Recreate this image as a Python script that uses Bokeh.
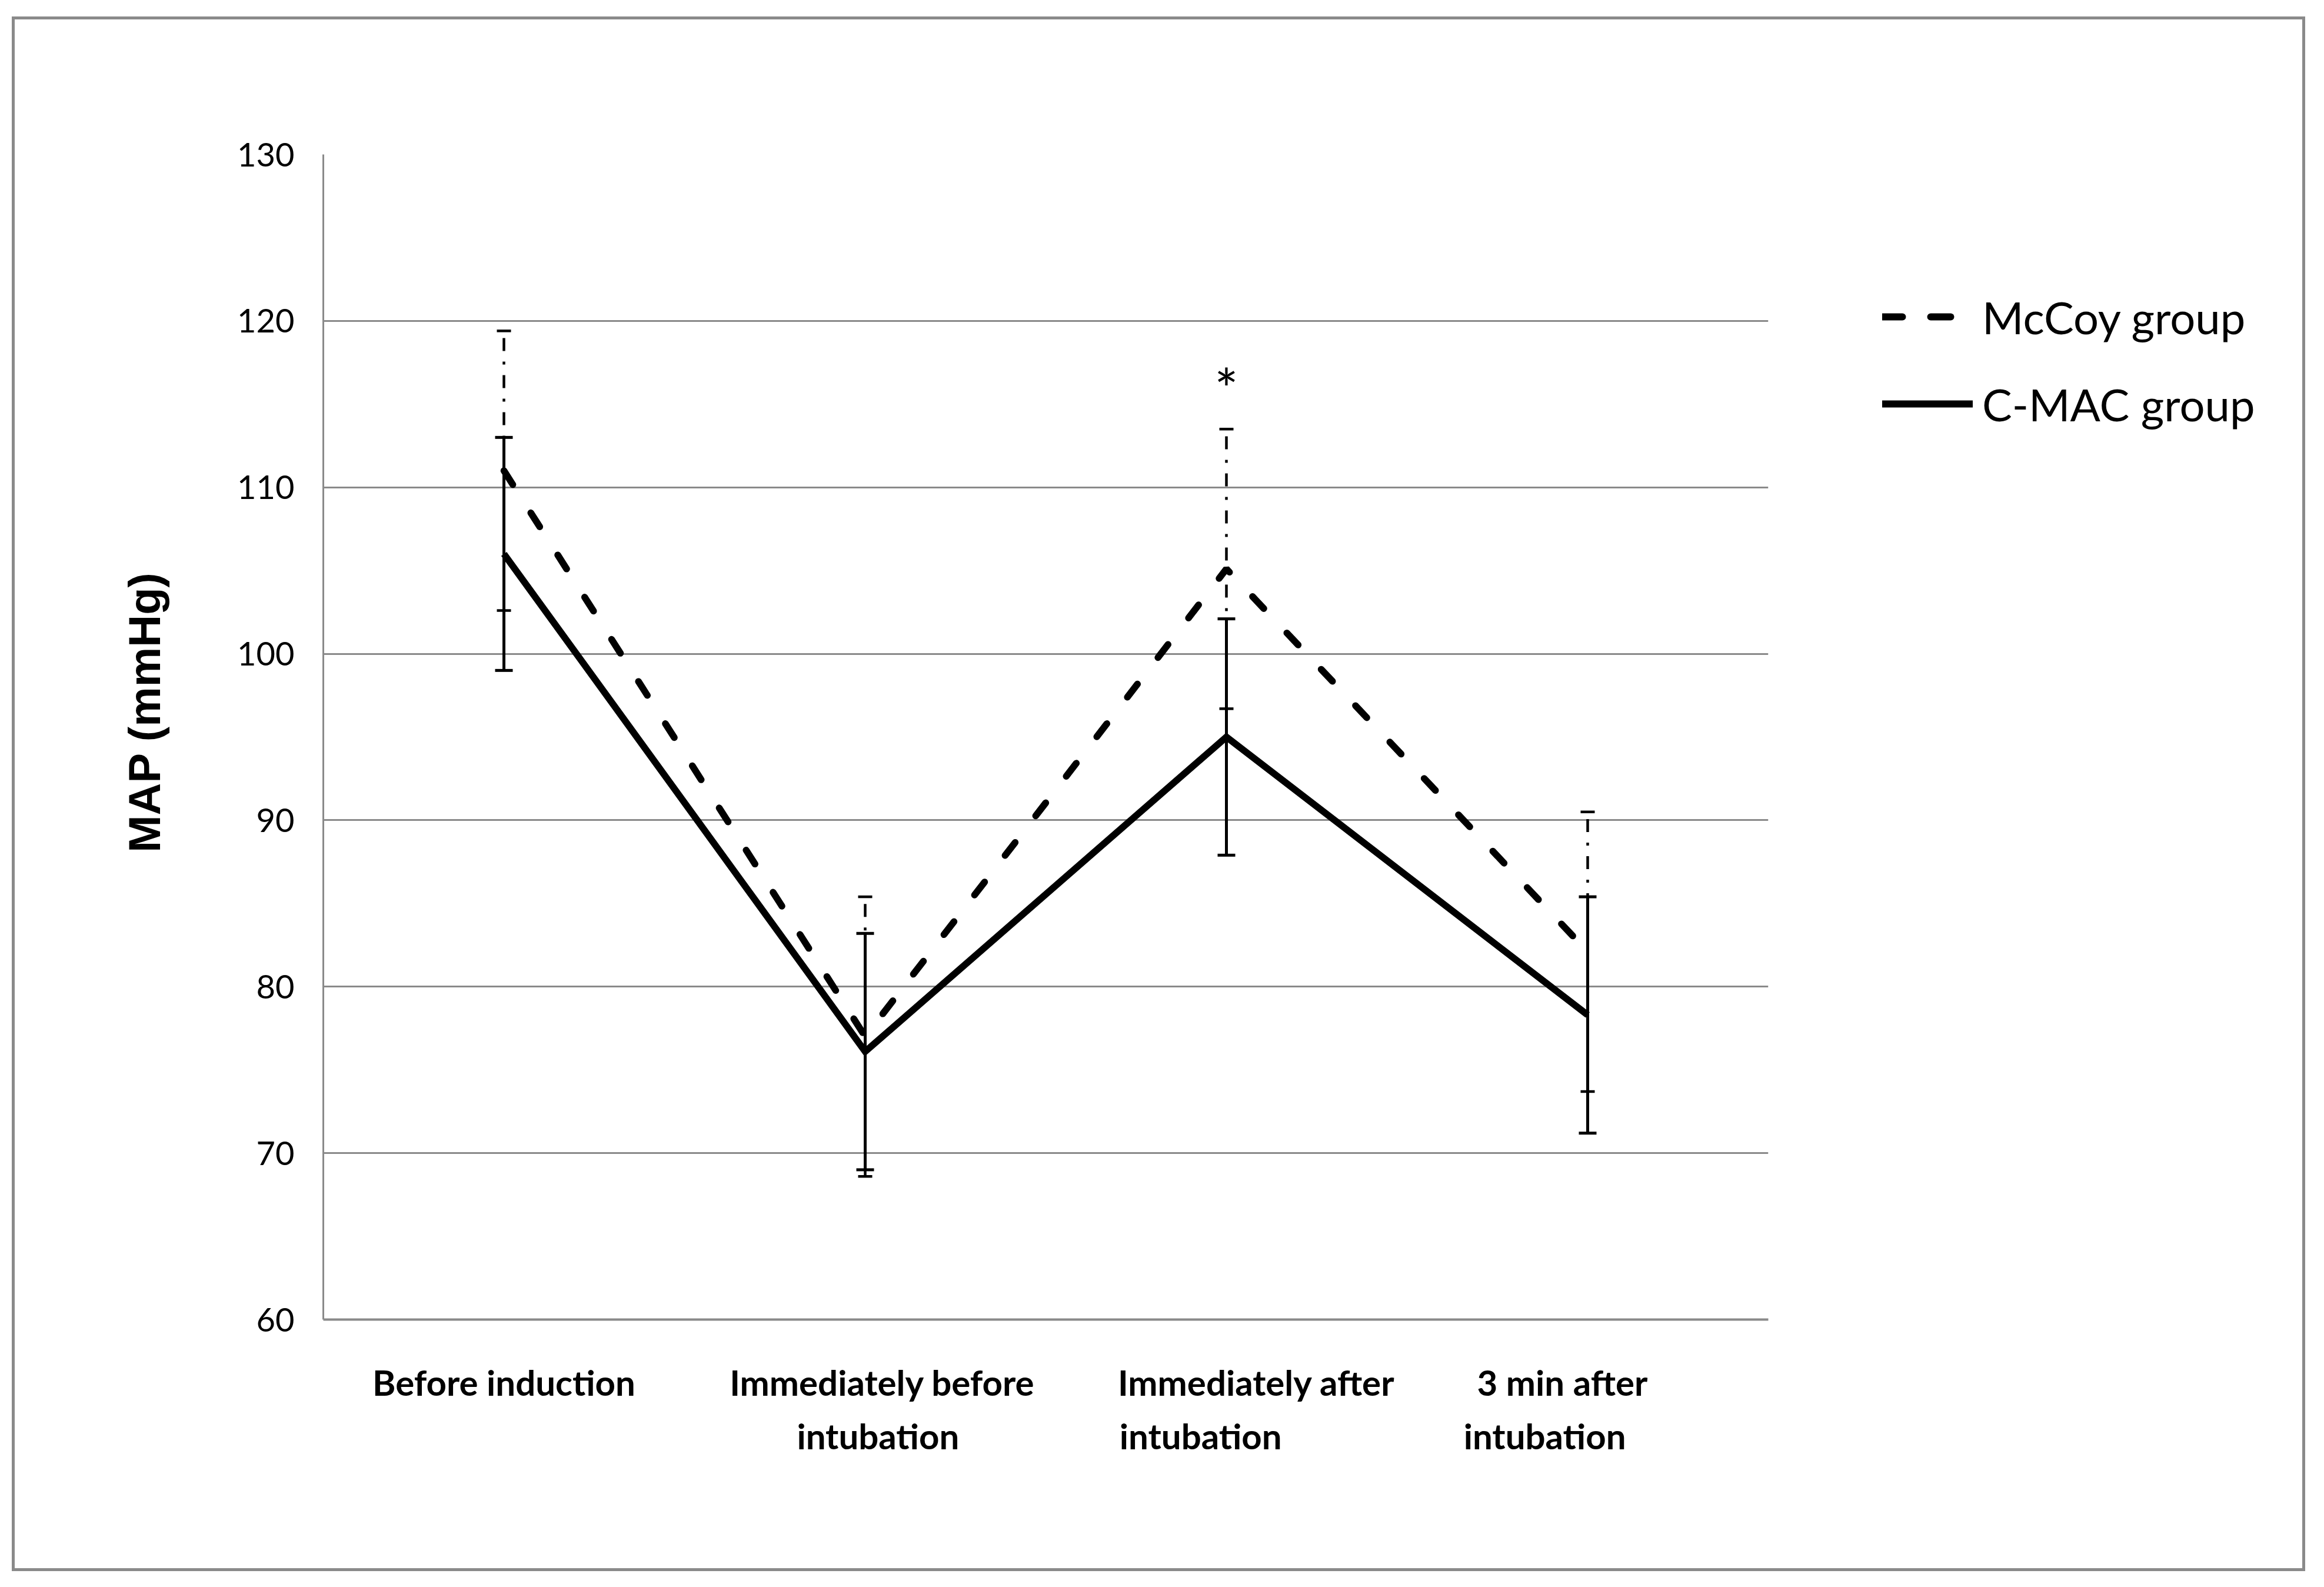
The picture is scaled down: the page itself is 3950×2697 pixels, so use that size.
from bokeh.plotting import figure
from bokeh.layouts import row
from bokeh.models import (FactorRange, FixedTicker, Whisker, TeeHead, ColumnDataSource,
                          Legend, LegendItem)
from bokeh.embed import file_html
from bokeh.resources import INLINE
from bokeh.core.properties import value

# ---------------- data ----------------
NB = "\u00a0"
categories = ["Before induction",
              NB * 4 + "Immediately before\n" + NB * 3 + "intubation",
              NB * 7 + "Immediately after\nintubation" + NB * 6,
              "3 min after" + NB * 6 + "\nintubation" + NB * 10]
mccoy_mean = [111.0, 77.0, 105.1, 82.1]
mccoy_sd = [8.4, 8.4, 8.4, 8.4]
cmac_mean = [106.0, 76.1, 95.0, 78.3]
cmac_sd = [7.0, 7.1, 7.1, 7.1]
y_ticks = [60, 70, 80, 90, 100, 110, 120, 130]
series_names = ["McCoy group", "C-MAC group"]
y_label = "MAP (mmHg)"
significant_idx = [2]

# ---------------- layout constants ----------------
W, H = 3888, 2632
PW = 2990                      # width of the chart part
FL, FR, FT, FB = 524, 2980, 229, 2209
grid_col = "#8a8a8a"

p = figure(width=PW, height=H,
           x_range=FactorRange(factors=categories, range_padding=0, factor_padding=0),
           y_range=(60, 130),
           output_backend="svg", toolbar_location=None,
           min_border_left=FL, min_border_right=PW - FR,
           min_border_top=FT, min_border_bottom=H - FB)
p.outline_line_color = None
p.background_fill_color = "white"
p.border_fill_color = "white"

p.xgrid.visible = False
p.ygrid.grid_line_color = grid_col
p.ygrid.grid_line_width = 3
p.ygrid.ticker = FixedTicker(ticks=y_ticks)

ya = p.yaxis[0]
ya.ticker = FixedTicker(ticks=y_ticks)
ya.major_tick_line_color = None
ya.minor_tick_line_color = None
ya.axis_line_color = grid_col
ya.axis_line_width = 3
ya.major_label_text_font = "Lato"
ya.major_label_text_font_size = "56px"
ya.major_label_text_color = "black"
ya.major_label_standoff = 43
ya.axis_label = NB * 4 + y_label
ya.axis_label_text_font = "Liberation Sans"
ya.axis_label_text_font_style = "bold"
ya.axis_label_text_font_size = "76px"
ya.axis_label_text_color = "black"
ya.axis_label_standoff = 112

xa = p.xaxis[0]
xa.major_tick_line_color = None
xa.minor_tick_line_color = None
xa.axis_line_color = grid_col
xa.axis_line_width = 4
xa.major_label_text_font = "Lato"
xa.major_label_text_font_style = "bold"
xa.major_label_text_font_size = "60px"
xa.major_label_text_color = "black"
xa.major_label_text_line_height = 1.27
xa.major_label_standoff = 64

# ---------------- error bars ----------------
src = ColumnDataSource(dict(
    x=categories,
    mc_lo=[m - s for m, s in zip(mccoy_mean, mccoy_sd)],
    mc_hi=[m + s for m, s in zip(mccoy_mean, mccoy_sd)],
    cm_lo=[m - s for m, s in zip(cmac_mean, cmac_sd)],
    cm_hi=[m + s for m, s in zip(cmac_mean, cmac_sd)],
))

w_mc = Whisker(base="x", upper="mc_hi", lower="mc_lo", source=src,
               line_color="black", line_width=4.5, line_dash="22 18 5 18",
               upper_head=TeeHead(size=24, line_width=4.5, line_color="black"),
               lower_head=TeeHead(size=24, line_width=4.5, line_color="black"))
w_cm = Whisker(base="x", upper="cm_hi", lower="cm_lo", source=src,
               line_color="black", line_width=5,
               upper_head=TeeHead(size=30, line_width=5, line_color="black"),
               lower_head=TeeHead(size=30, line_width=5, line_color="black"))
p.add_layout(w_mc)
p.add_layout(w_cm)

# ---------------- lines ----------------
LW = 11.5
p.line(x=categories, y=mccoy_mean, line_color="black", line_width=LW,
       line_dash="28 57", line_cap="round")
p.line(x=categories, y=cmac_mean, line_color="black", line_width=LW,
       line_join="miter")

# significance marker
p.text(x=[categories[i] for i in significant_idx],
       y=[mccoy_mean[i] + mccoy_sd[i] + 2.5 for i in significant_idx],
       text=["*" for _ in significant_idx],
       text_align="center", text_baseline="middle",
       text_font=value("Lato"), text_font_size="95px", text_color="black")

# ---------------- legend panel ----------------
q = figure(width=W - PW, height=H, x_range=(0, 1), y_range=(0, 1),
           output_backend="svg", toolbar_location=None,
           x_axis_location=None, y_axis_location=None,
           min_border=0, min_border_left=0, min_border_right=0,
           min_border_top=FT, min_border_bottom=H - FB)
q.outline_line_color = None
q.grid.visible = False
q.background_fill_color = "white"
q.border_fill_color = "white"
nan = float("nan")
# legend-only sample renderers (no visible data)
lg_mc = q.line(x=[nan], y=[nan], line_color="black", line_width=12,
               line_dash="34 48", line_cap="round")
lg_cm = q.line(x=[nan], y=[nan], line_color="black", line_width=12, line_cap="round")
legend = Legend(items=[LegendItem(label=series_names[0], renderers=[lg_mc]),
                       LegendItem(label=series_names[1], renderers=[lg_cm])],
                location=(3199 - 25 - PW, FB - (686 - 33 + 47)),
                glyph_width=154, glyph_height=94,
                label_text_font="Lato", label_text_font_size="76px",
                label_text_color="black", label_standoff=16,
                spacing=54, padding=0, margin=0,
                border_line_color=None, background_fill_alpha=0)
q.add_layout(legend)

layout = row(p, q, spacing=0)
layout.styles = {"transform": "translate(25px, 33px)", "outline": "5px solid " + grid_col}

open("out.html", "w").write(file_html(layout, INLINE))
